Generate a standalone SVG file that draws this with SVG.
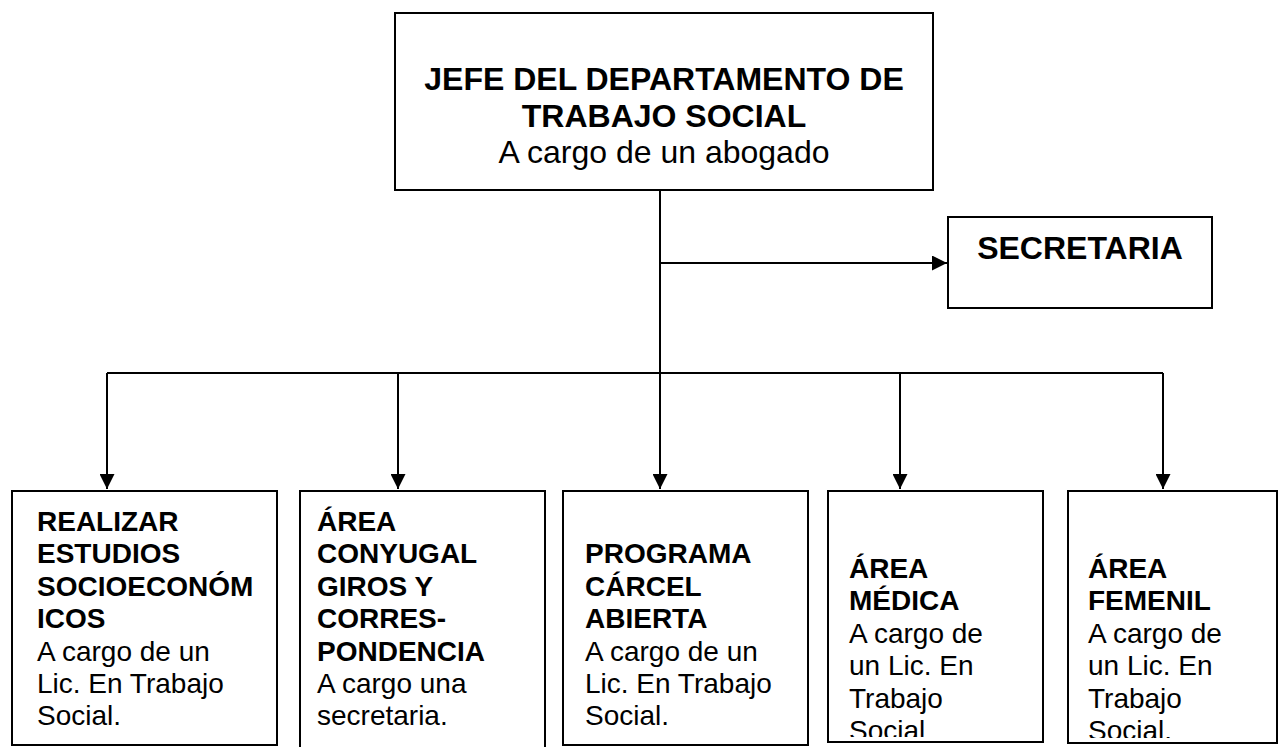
<svg xmlns="http://www.w3.org/2000/svg" width="1278" height="747" viewBox="0 0 1278 747">
<defs>
<style>
.box{fill:#fff;stroke:#000;stroke-width:2}
.ln{fill:none;stroke:#000;stroke-width:2}
.t{font-family:"Liberation Sans",Arial,sans-serif;fill:#000}
.b{font-weight:bold}
.big{font-size:32px}
.sm{font-size:28px}
</style>
<marker id="ah" viewBox="0 0 10 10" refX="10" refY="5" markerWidth="7.5" markerHeight="7.5" markerUnits="strokeWidth" orient="auto">
<path d="M0,0 L10,5 L0,10 z" fill="#000"/>
</marker>
<clipPath id="c4"><rect x="829" y="491" width="213" height="246"/></clipPath>
<clipPath id="c5"><rect x="1069" y="491" width="207" height="247"/></clipPath>
</defs>
<rect width="1278" height="747" fill="#fff"/>
<g id="connectors">
<path class="ln" d="M660,190 V373"/>
<path class="ln" d="M660,263 H947" marker-end="url(#ah)"/>
<path class="ln" d="M107,373 H1163"/>
<path class="ln" d="M107,373 V489" marker-end="url(#ah)"/>
<path class="ln" d="M398,373 V489" marker-end="url(#ah)"/>
<path class="ln" d="M660,373 V489" marker-end="url(#ah)"/>
<path class="ln" d="M900,373 V489" marker-end="url(#ah)"/>
<path class="ln" d="M1163,373 V489" marker-end="url(#ah)"/>
</g>
<g id="jefe">
<rect class="box" x="395" y="13" width="538" height="177"/>
<text class="t b big" x="664" y="90" text-anchor="middle">JEFE DEL DEPARTAMENTO DE</text>
<text class="t b big" x="664" y="127" text-anchor="middle">TRABAJO SOCIAL</text>
<text class="t big" x="664" y="163" text-anchor="middle">A cargo de un abogado</text>
</g>
<g id="secretaria">
<rect class="box" x="948" y="217" width="264" height="91"/>
<text class="t b big" x="1080" y="259" text-anchor="middle">SECRETARIA</text>
</g>
<g id="estudios">
<rect class="box" x="12" y="491" width="265" height="254"/>
<text class="t sm"><tspan class="b" x="37" y="531">REALIZAR</tspan><tspan class="b" x="37" y="563">ESTUDIOS</tspan><tspan class="b" x="37" y="596">SOCIOECONÓM</tspan><tspan class="b" x="37" y="628">ICOS</tspan><tspan x="37" y="661">A cargo de un</tspan><tspan x="37" y="693">Lic. En Trabajo</tspan><tspan x="37" y="725">Social.</tspan></text>
</g>
<g id="conyugal">
<path class="box" d="M300,748 V491 H545 V748"/>
<text class="t sm"><tspan class="b" x="317" y="531">ÁREA</tspan><tspan class="b" x="317" y="563">CONYUGAL</tspan><tspan class="b" x="317" y="596">GIROS Y</tspan><tspan class="b" x="317" y="628">CORRES-</tspan><tspan class="b" x="317" y="661">PONDENCIA</tspan><tspan x="317" y="693">A cargo una</tspan><tspan x="317" y="725">secretaria.</tspan></text>
</g>
<g id="carcel">
<rect class="box" x="563" y="491" width="245" height="254"/>
<text class="t sm"><tspan class="b" x="585" y="563">PROGRAMA</tspan><tspan class="b" x="585" y="596">CÁRCEL</tspan><tspan class="b" x="585" y="628">ABIERTA</tspan><tspan x="585" y="661">A cargo de un</tspan><tspan x="585" y="693">Lic. En Trabajo</tspan><tspan x="585" y="725">Social.</tspan></text>
</g>
<g id="medica">
<rect class="box" x="828" y="491" width="215" height="251"/>
<text class="t sm" clip-path="url(#c4)"><tspan class="b" x="849" y="578">ÁREA</tspan><tspan class="b" x="849" y="610">MÉDICA</tspan><tspan x="849" y="643">A cargo de</tspan><tspan x="849" y="675">un Lic. En</tspan><tspan x="849" y="708">Trabajo</tspan><tspan x="849" y="740">Social.</tspan></text>
</g>
<g id="femenil">
<rect class="box" x="1068" y="491" width="209" height="252"/>
<text class="t sm" clip-path="url(#c5)"><tspan class="b" x="1088" y="578">ÁREA</tspan><tspan class="b" x="1088" y="610">FEMENIL</tspan><tspan x="1088" y="643">A cargo de</tspan><tspan x="1088" y="675">un Lic. En</tspan><tspan x="1088" y="708">Trabajo</tspan><tspan x="1088" y="740">Social.</tspan></text>
</g>
</svg>
